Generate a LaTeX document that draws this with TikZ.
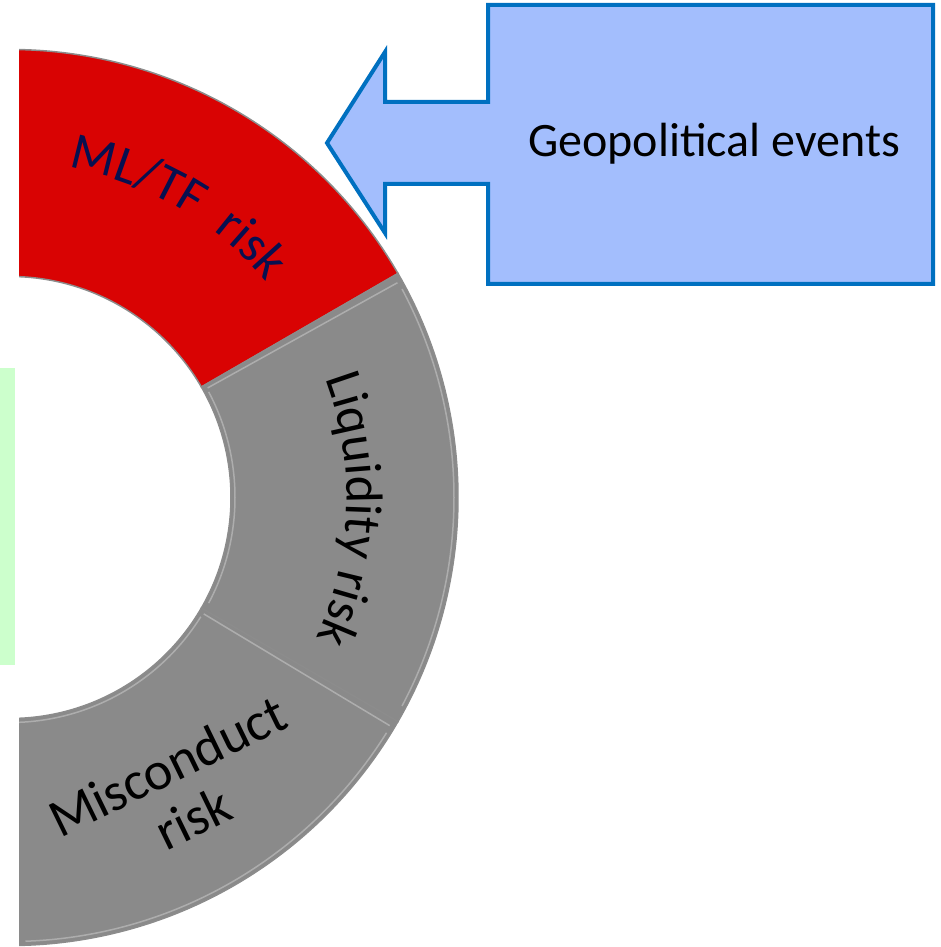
\documentclass[tikz,border=0pt]{standalone}
\usepackage{fontspec}
\setmainfont{Carlito}
\usetikzlibrary{decorations.text}

\definecolor{ringred}{RGB}{217,3,3}
\definecolor{ringgray}{RGB}{138,138,138}
\definecolor{mlnavy}{RGB}{8,16,80}
\definecolor{calloutfill}{RGB}{163,190,253}
\definecolor{calloutedge}{RGB}{0,112,192}
\definecolor{panelgreen}{RGB}{204,255,204}

\begin{document}
\begin{tikzpicture}[x=1pt, y=1pt,
	segment/.style={draw=black!45, line width=1.5pt},
	bevel/.style={draw=white, opacity=0.3, line width=1.5pt},
	ringlabel/.style={font=\fontsize{54}{58}\selectfont},
	callout/.style={fill=calloutfill, draw=calloutedge, line width=4pt, line join=miter}]
		\useasboundingbox (0,0) rectangle (940,947);

		% Green panel, cut at the left edge
		\fill[panelgreen] (0,282) rectangle (15,579);

		% Ring of risks
		\begin{scope}
			\clip (19,0) rectangle (940,947);
			\begin{scope}[shift={(10,449.5)}]
				\filldraw[segment, fill=ringred] (30:448) arc[start angle=30, end angle=90, radius=448]
					-- (90:221) arc[start angle=90, end angle=30, radius=221] -- cycle;
				\filldraw[segment, fill=ringgray] (-30:448) arc[start angle=-30, end angle=30, radius=448]
					-- (30:221) arc[start angle=30, end angle=-30, radius=221] -- cycle;
				\filldraw[segment, fill=ringgray] (-90:448) arc[start angle=-90, end angle=-30, radius=448]
					-- (-30:221) arc[start angle=-30, end angle=-90, radius=221] -- cycle;

				% Soft highlight along the edges
				\draw[bevel] (-88:444) arc[start angle=-88, end angle=-32, radius=444];
				\draw[bevel] (-28:444) arc[start angle=-28, end angle=28, radius=444];
				\draw[bevel] (-90:225) arc[start angle=-90, end angle=-32, radius=225];
				\draw[bevel] (-28:225) arc[start angle=-28, end angle=28, radius=225];
				\draw[bevel] (29:226) -- (29:443);
				\draw[bevel] (-31:226) -- (-31:443);

				% Labels on the ring
				\path[decorate, decoration={text along path, text align=center, text color=mlnavy,
					text={|\fontsize{52}{58}\selectfont|ML/TF {\ }risk}}]
					(100:335) arc[start angle=100, end angle=20, radius=335];
				\path[decorate, decoration={text along path, text align=center, text color=black,
					text={|\fontsize{52}{58}\selectfont|Liquidity risk}}]
					(38:337) arc[start angle=38, end angle=-42, radius=337];
				\node[ringlabel, align=center, rotate=26] (misc) at (-60:340) {Misconduct\\risk};
			\end{scope}
		\end{scope}

		% Callout arrow
		\draw[callout] (327,804) -- (385,895) -- (385,845) -- (488,845) -- (488,942)
			-- (933,942) -- (933,663) -- (488,663) -- (488,763) -- (385,763) -- (385,714) -- cycle;
		\node[font=\fontsize{48}{58}\selectfont, anchor=base] (geo) at (714,790) {Geopolitical events};
	\end{tikzpicture}
\end{document}
